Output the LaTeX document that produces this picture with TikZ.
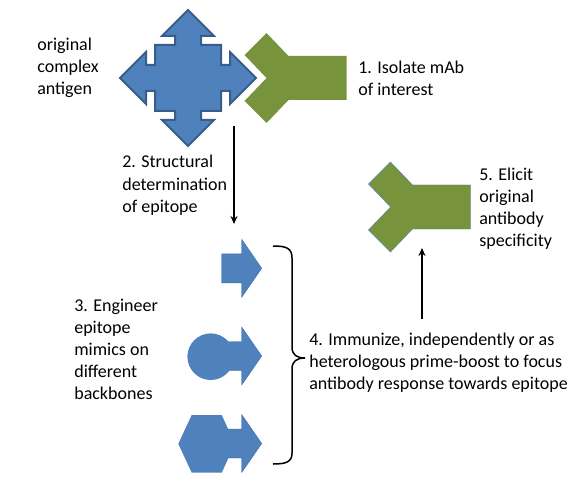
\documentclass[tikz,border=0pt]{standalone}
\usepackage{fontspec}
\setmainfont{Carlito}
\usetikzlibrary{arrows.meta}

\definecolor{antigenblue}{HTML}{4F81BD}
\definecolor{antigenedge}{HTML}{385D8A}
\definecolor{mabgreen}{HTML}{77933C}

\begin{document}
\begin{tikzpicture}[> = {Stealth[length=8pt, width=7pt]}, % arrow head style
    x = 1pt, y = -1pt, % pixel grid, y runs downwards
    semithick % line style
  ]

  % multi-line labels sit on the baseline of their last line
  \tikzstyle{txt}=[align=left, anchor=base west, inner sep=0pt,
  font=\fontsize{18}{22}\selectfont]
  \tikzstyle{flow}=[->, line width=1.6pt]
  \tikzset{antibody/.pic={
      \path[pic actions] (0,0) -- (-22,-23) -- (0,-45) -- (22,-22) --
      (80,-22) -- (80,22) -- (22,22) -- (0,45) -- (-22,23) -- cycle;},
    mimic/.pic={
      \path[pic actions] (-40,-14.5) -- (-20,-14.5) -- (-20,-29) -- (0,0)
      -- (-20,29) -- (-20,14.5) -- (-40,14.5) -- cycle;}}

  \useasboundingbox (0,0) rectangle (585,486);

  % antigen and the isolated antibody
  \coordinate (antigen) at (188,78);
  \begin{scope}[shift={(antigen)}]
    \filldraw[fill=antigenblue, draw=antigenedge, line width=2pt]
    (-33,-33) \foreach \a in {0,-90,-180,-270} { -- ([rotate=\a]-33,-33)
      -- ([rotate=\a]-13,-33) -- ([rotate=\a]-13,-42) -- ([rotate=\a]-26,-42)
      -- ([rotate=\a]0,-68) -- ([rotate=\a]26,-42) -- ([rotate=\a]13,-42)
      -- ([rotate=\a]13,-33) } -- cycle;
  \end{scope}
  \pic[fill=mabgreen] (mab) at (266.5,78) {antibody};

  % epitope mimics
  \pic[fill=antigenblue, draw=antigenblue!85!black, thin] (m1) at (261.7,268.3) {mimic};
  \pic[fill=antigenblue, draw=antigenblue!85!black, thin] (m2) at (261.7,356) {mimic};
  \pic[fill=antigenblue, draw=antigenblue!85!black, thin] (m3) at (261.7,443.5) {mimic};
  \node[circle, fill=antigenblue, minimum size=46.6pt, inner sep=0pt] (circ)
  at (210.7,356.7) {};
  \fill[antigenblue] (178.3,443.8) -- (191.7,415) -- (221.7,415) --
  (235,443.8) -- (221.7,472.7) -- (191.7,472.7) -- cycle;

  % elicited antibody
  \pic[fill=mabgreen, draw=antigenblue, thin] (elicited) at (390.5,207) {antibody};

  % brace round the mimics
  \draw[line width=1.5pt] (273,246) .. controls (286,246) and (292,248) ..
  (292,258) -- (292,347) .. controls (292,355) and (297,358) .. (305,358)
  .. controls (297,358) and (292,361) .. (292,369) -- (292,453)
  .. controls (292,462) and (286,464) .. (273,464);

  % labels
  \node[txt] (antigenlbl) at (37,95) {original\\complex\\antigen};
  \node[txt] (isolate) at (358,96) {1. Isolate mAb\\of interest};
  \node[txt] (struct) at (122,212) {2. Structural\\determination\\of epitope};
  \node[txt] (engineer) at (74,399) {3. Engineer\\epitope\\mimics on\\different\\backbones};
  \node[txt] (immunize) at (309,389) {4. Immunize, independently or as\\heterologous
    prime-boost to focus\\antibody response towards epitope};
  \node[txt] (elicit) at (479,246) {5. Elicit\\original\\antibody\\specificity};

  % arrows
  \coordinate (a1s) at (234,126); \coordinate (a1e) at (234,224);
  \coordinate (a2s) at (422,319); \coordinate (a2e) at (422,248);
  \draw[flow] (a1s) -- (a1e);
  \draw[flow] (a2s) -- (a2e);
\end{tikzpicture}
\end{document}
